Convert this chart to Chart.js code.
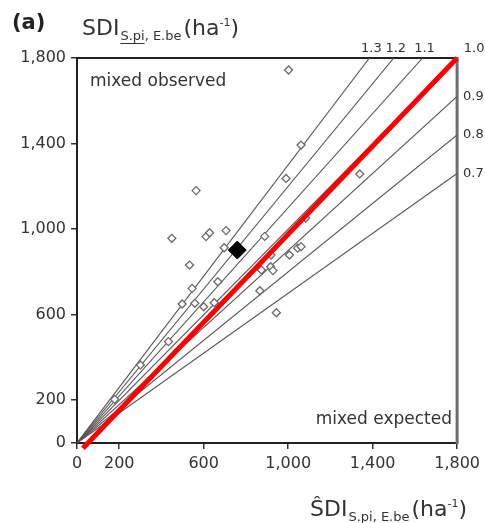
<!DOCTYPE html>
<html>
<head>
<meta charset="utf-8">
<script src="https://cdn.jsdelivr.net/npm/chart.js@4.4.1/dist/chart.umd.min.js"></script>
<style>
  html, body { margin: 0; padding: 0; background: #fff; }
  #wrap { width: 485px; height: 523px; }
</style>
</head>
<body>
<div id="wrap"><canvas id="sdiChart" width="485" height="523"></canvas></div>
<script>
// axis ticks
const xTicks = [0, 200, 600, 1000, 1400, 1800];
const yTicks = [0, 200, 600, 1000, 1400, 1800];
const axisMax = 1800;

// reference ratio lines (observed / expected)
const ratioTop = [1.3, 1.2, 1.1, 1.0];
const ratioRight = [0.9, 0.8, 0.7];

// single stands
const obsX = [1002, 1061, 990, 1339, 564, 449, 611, 628, 706, 697, 533, 889, 667, 545, 498,
  558, 600, 650, 433, 866, 944, 873, 917, 928, 919, 1006, 1045, 1061, 1083, 178, 300];
const obsY = [1744, 1393, 1237, 1258, 1180, 957, 965, 983, 993, 913, 832, 966, 754, 723, 650,
  653, 637, 656, 474, 712, 609, 809, 824, 806, 879, 879, 911, 918, 1052, 204, 365];

// mean of all stands
const meanX = [759];
const meanY = [902];

// regression line
const fitX = [28, 1800];
const fitY = [-25, 1800];

const FONT = '"DejaVu Sans", sans-serif';
const TXT = "#333";

function toPts(xs, ys) {
  return xs.map((x, i) => ({ x, y: ys[i] }));
}

const datasets = [];

datasets.push({
  label: "fit",
  data: toPts(fitX, fitY),
  showLine: true,
  borderColor: "#ff0000",
  borderWidth: 5,
  pointRadius: 0,
  clip: false,
  order: 0
});

datasets.push({
  label: "mean",
  data: toPts(meanX, meanY),
  pointStyle: "rectRot",
  pointRadius: 9,
  backgroundColor: "#000",
  borderColor: "#000",
  order: 1
});

datasets.push({
  label: "stands",
  data: toPts(obsX, obsY),
  pointStyle: "rectRot",
  pointRadius: 4,
  borderWidth: 1.3,
  backgroundColor: "#fff",
  borderColor: "#6a6a6a",
  order: 2
});

ratioTop.concat(ratioRight).forEach(r => {
  const end = r >= 1 ? { x: axisMax / r, y: axisMax } : { x: axisMax, y: axisMax * r };
  datasets.push({
    label: "r" + r,
    data: [{ x: 0, y: 0 }, end],
    showLine: true,
    borderColor: "#555",
    borderWidth: 1.1,
    pointRadius: 0,
    order: 3
  });
});

function drawSdi(ctx, x, y, hat) {
  ctx.fillStyle = TXT;
  ctx.strokeStyle = TXT;
  ctx.textAlign = "left";
  ctx.textBaseline = "alphabetic";
  ctx.font = "22px " + FONT;
  const main = hat ? "\u015CDI" : "SDI";
  ctx.fillText(main, x, y);
  x += ctx.measureText(main).width + 1;
  ctx.font = "13px " + FONT;
  const s1 = "S.pi";
  const w1 = ctx.measureText(s1).width;
  ctx.fillText(s1, x, y + 5);
  ctx.lineWidth = 1;
  ctx.beginPath();
  ctx.moveTo(x, y + 8.5);
  ctx.lineTo(x + w1, y + 8.5);
  ctx.stroke();
  x += w1;
  const s2 = ", E.be";
  ctx.fillText(s2, x, y + 5);
  x += ctx.measureText(s2).width + 2;
  ctx.font = "22px " + FONT;
  ctx.fillText("(ha", x, y);
  x += ctx.measureText("(ha").width;
  ctx.font = "11px " + FONT;
  ctx.fillText("-1", x, y - 9);
  x += ctx.measureText("-1").width;
  ctx.font = "22px " + FONT;
  ctx.fillText(")", x, y);
}

const decorPlugin = {
  id: "decor",
  beforeDatasetsDraw(chart) {
    const { ctx, chartArea: a } = chart;
    ctx.save();
    ctx.strokeStyle = "#222";
    ctx.lineWidth = 2;
    ctx.beginPath();
    ctx.moveTo(a.left, a.top);
    ctx.lineTo(a.right, a.top);
    ctx.stroke();
    ctx.strokeStyle = "#6e6e6e";
    ctx.lineWidth = 3;
    ctx.beginPath();
    ctx.moveTo(a.right, a.top - 1);
    ctx.lineTo(a.right, a.bottom + 1);
    ctx.stroke();
    ctx.restore();
  },
  afterDraw(chart) {
    const { ctx, chartArea: a, scales } = chart;
    ctx.save();
    // panel letter
    ctx.fillStyle = "#222";
    ctx.font = "bold 21px " + FONT;
    ctx.textAlign = "left";
    ctx.fillText("(a)", 12, 29);
    drawSdi(ctx, 82, 35, false);
    drawSdi(ctx, 310, 516, true);

    ctx.fillStyle = TXT;
    ctx.font = "17px " + FONT;
    ctx.textAlign = "left";
    ctx.fillText("mixed observed", 90, 86);
    ctx.textAlign = "right";
    ctx.fillText("mixed expected", 452, 424);

    // ratio labels
    ctx.font = "13px " + FONT;
    ctx.textAlign = "center";
    ratioTop.forEach(r => {
      let px = scales.x.getPixelForValue(axisMax / r);
      if (r === 1) px += 15;
      ctx.fillText(r.toFixed(1), px + 2, a.top - 6);
    });
    ctx.textAlign = "left";
    ctx.textBaseline = "middle";
    ratioRight.forEach(r => {
      ctx.fillText(r.toFixed(1), a.right + 6, scales.y.getPixelForValue(axisMax * r));
    });
    ctx.restore();
  }
};

function axisOpts(ticks, isY) {
  return {
    type: "linear",
    min: 0,
    max: axisMax,
    afterBuildTicks: axis => { axis.ticks = ticks.map(v => ({ value: v })); },
    afterFit: scale => {
      if (isY) scale.width = 77; else scale.height = 80;
    },
    grid: { drawOnChartArea: false, drawTicks: true, tickLength: 6, color: "#333", lineWidth: 1.5 },
    border: { display: true, color: "#222", width: 2 },
    ticks: {
      autoSkip: false,
      maxRotation: 0,
      padding: 5,
      color: TXT,
      font: { family: "DejaVu Sans", size: 16 },
      callback: v => v.toLocaleString("en-US")
    }
  };
}

new Chart(document.getElementById("sdiChart"), {
  type: "scatter",
  data: { datasets },
  options: {
    responsive: false,
    animation: false,
    layout: { padding: { top: 58, right: 24, left: 0, bottom: 0 } },
    plugins: { legend: { display: false }, tooltip: { enabled: false } },
    scales: {
      x: axisOpts(xTicks, false),
      y: axisOpts(yTicks, true)
    }
  },
  plugins: [decorPlugin]
});
</script>
</body>
</html>
